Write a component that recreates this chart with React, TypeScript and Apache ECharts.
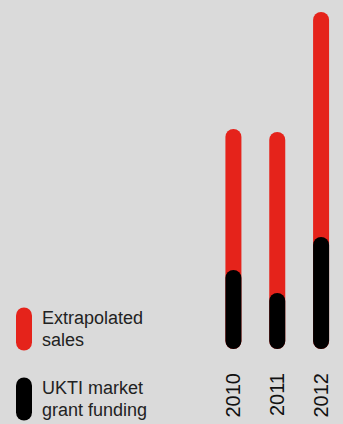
import React, { useEffect, useRef } from "react";
import * as echarts from "echarts";

const years = ["2010", "2011", "2012"];
const extrapolatedSales = [220, 217, 337];
const grantFunding = [79, 56, 112];
const seriesNames = ["Extrapolated\nsales", "UKTI market\ngrant funding"];

const RED = "#e5231b";
const BLACK = "#000000";
const capsule = "path://M0,8 A8,8 0 0 1 16,8 L16,35 A8,8 0 0 1 0,35 Z";

const legendBase = {
  orient: "vertical",
  left: 16,
  padding: 0,
  itemWidth: 16,
  itemHeight: 43,
  icon: capsule,
  selectedMode: false,
  textStyle: {
    fontFamily: "Liberation Sans, Arial, sans-serif",
    fontSize: 18,
    lineHeight: 22,
    color: "#222",
    padding: [4, 0, 0, 5],
  },
};

export default function App() {
  const ref = useRef<HTMLDivElement>(null);
  useEffect(() => {
    if (!ref.current) return;
    const chart = echarts.init(ref.current, null, { renderer: "svg" });
    chart.setOption({
      animation: false,
      backgroundColor: "#dadada",
      grid: { left: 211.5, width: 135, top: 12, height: 337 },
      legend: [
        { ...legendBase, top: 305, data: [seriesNames[0]] },
        { ...legendBase, top: 375, data: [seriesNames[1]] },
      ],
      xAxis: {
        type: "category",
        data: years,
        axisLine: { show: false },
        axisTick: { show: false },
        axisLabel: {
          rotate: 90,
          margin: 24,
          fontFamily: "Liberation Sans, Arial, sans-serif",
          fontSize: 20,
          color: "#111",
        },
      },
      yAxis: {
        type: "value",
        min: 0,
        max: 337,
        show: false,
        splitLine: { show: false },
      },
      series: [
        {
          name: seriesNames[0],
          type: "bar",
          data: extrapolatedSales,
          barWidth: 16,
          barGap: "-100%",
          itemStyle: { color: RED, borderRadius: 8 },
        },
        {
          name: seriesNames[1],
          type: "bar",
          data: grantFunding,
          barWidth: 16,
          barGap: "-100%",
          itemStyle: { color: BLACK, borderRadius: 8 },
        },
      ],
    });
    return () => chart.dispose();
  }, []);
  return (
    <div
      ref={ref}
      style={{ position: "fixed", left: 0, top: 0, width: 343, height: 424 }}
    />
  );
}
